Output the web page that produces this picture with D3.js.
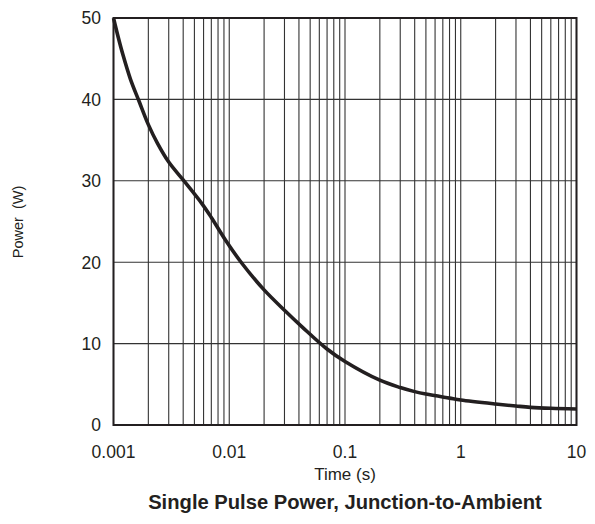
<!DOCTYPE html>
<html>
<head>
<meta charset="utf-8">
<script src="https://cdn.jsdelivr.net/npm/d3@7"></script>
<style>
  body { margin: 0; background: #fff; }
  text { font-family: "Liberation Sans", Arial, sans-serif; fill: #231f20; }
</style>
</head>
<body>
<svg id="chart" width="595" height="524"></svg>
<script>
// pulse time (s) and power (W)
var times = [0.001, 0.0011, 0.0012, 0.0014, 0.00166, 0.002, 0.0024, 0.003, 0.004, 0.0058, 0.007,
             0.0093, 0.0128, 0.02, 0.03, 0.043, 0.069, 0.1, 0.2, 0.3, 0.4, 0.5, 0.8,
             1, 2, 3, 4, 6, 10];
var power = [50, 47.6, 45.6, 42.5, 39.8, 36.9, 34.6, 32.3, 30.1, 27.2, 25.5,
             22.7, 19.9, 16.6, 14.1, 12.0, 9.4, 7.8, 5.5, 4.6, 4.1, 3.8, 3.3,
             3.07, 2.58, 2.33, 2.17, 2.05, 1.97];
var xTicks = [0.001, 0.01, 0.1, 1, 10];
var xTickLabels = ["0.001", "0.01", "0.1", "1", "10"];
var yTicks = [0, 10, 20, 30, 40, 50];

var svg = d3.select("#chart");
var pLeft = 113.5, pRight = 576.5, pTop = 18, pBottom = 425;

var x = d3.scaleLog().domain([0.001, 10]).range([pLeft, pRight]);
var y = d3.scaleLinear().domain([0, 50]).range([pBottom, pTop]);

// minor grid: 1..9 in each decade
var minor = [];
for (var e = -3; e < 1; e++) {
  for (var m = 1; m < 10; m++) minor.push(m * Math.pow(10, e));
}
minor.push(10);

var grid = svg.append("g");
grid.selectAll("line.v")
  .data(minor)
  .enter().append("line")
  .attr("x1", function (d) { return x(d); })
  .attr("x2", function (d) { return x(d); })
  .attr("y1", pTop).attr("y2", pBottom)
  .attr("stroke", "#333").attr("stroke-width", 1.1);

grid.selectAll("line.h")
  .data(yTicks)
  .enter().append("line")
  .attr("x1", pLeft).attr("x2", pRight)
  .attr("y1", function (d) { return y(d); })
  .attr("y2", function (d) { return y(d); })
  .attr("stroke", "#333").attr("stroke-width", 1.1);

svg.append("rect")
  .attr("x", pLeft).attr("y", pTop)
  .attr("width", pRight - pLeft).attr("height", pBottom - pTop)
  .attr("fill", "none").attr("stroke", "#231f20").attr("stroke-width", 2);

// curve
var line = d3.line()
  .x(function (d, i) { return x(times[i]); })
  .y(function (d) { return y(d); })
  .curve(d3.curveCatmullRom.alpha(0.5));

svg.append("path")
  .datum(power)
  .attr("d", line)
  .attr("fill", "none")
  .attr("stroke", "#231f20")
  .attr("stroke-width", 3.6)
  .attr("stroke-linejoin", "round");

// tick labels
svg.selectAll("text.yt")
  .data(yTicks)
  .enter().append("text")
  .attr("x", 101)
  .attr("y", function (d) { return y(d); })
  .attr("dy", "0.36em")
  .attr("text-anchor", "end")
  .style("font-size", "17.5px")
  .text(function (d) { return d; });

svg.selectAll("text.xt")
  .data(xTicks)
  .enter().append("text")
  .attr("x", function (d) { return x(d); })
  .attr("y", 458)
  .attr("text-anchor", "middle")
  .style("font-size", "17.5px")
  .text(function (d, i) { return xTickLabels[i]; });

svg.append("text")
  .attr("transform", "translate(23,222) rotate(-90)")
  .attr("text-anchor", "middle")
  .style("font-size", "14.5px")
  .style("white-space", "pre")
  .text("Power  (W)");

svg.append("text")
  .attr("x", 345).attr("y", 480)
  .attr("text-anchor", "middle")
  .style("font-size", "17px")
  .text("Time (s)");

svg.append("text")
  .attr("x", 345).attr("y", 509)
  .attr("text-anchor", "middle")
  .style("font-size", "20.2px")
  .style("font-weight", "bold")
  .text("Single Pulse Power, Junction-to-Ambient");
</script>
</body>
</html>
